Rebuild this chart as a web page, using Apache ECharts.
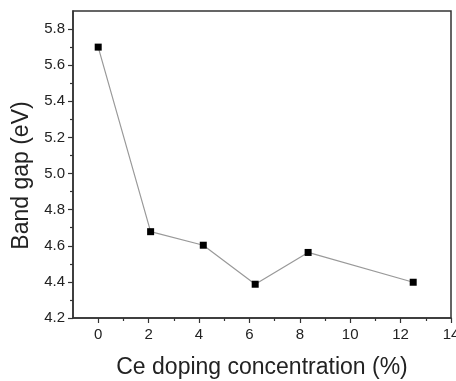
<!DOCTYPE html>
<html>
<head>
<meta charset="utf-8">
<script src="https://cdn.jsdelivr.net/npm/echarts@6/dist/echarts.min.js"></script>
<style>
  html, body { margin: 0; padding: 0; background: #fff; }
  #chart { width: 456px; height: 381px; }
</style>
</head>
<body>
<div id="chart"></div>
<script>
var concentration = [0, 2.08, 4.17, 6.23, 8.33, 12.5];
var bandGap = [5.70, 4.678, 4.603, 4.387, 4.563, 4.398];

var xTicks = [0, 2, 4, 6, 8, 10, 12, 14];
var xMinorTicks = [1, 3, 5, 7, 9, 11, 13];
var yTicks = [4.2, 4.4, 4.6, 4.8, 5.0, 5.2, 5.4, 5.6, 5.8];
var yMinorTicks = [4.3, 4.5, 4.7, 4.9, 5.1, 5.3, 5.5, 5.7];

var axisColor = '#333';
var textColor = '#222';
var font = 'Liberation Sans';

var chart = echarts.init(document.getElementById('chart'));

var option = {
    backgroundColor: '#fff',
    animation: false,
    grid: {
        left: 73,
        right: 5,
        top: 11,
        bottom: 63,
        containLabel: false,
        outerBoundsMode: 'none',
        show: true,
        borderColor: axisColor,
        borderWidth: 1.5
    },
    xAxis: [
        {
            type: 'value',
            min: -1,
            max: 14,
            position: 'bottom',
            name: 'Ce doping concentration (%)',
            nameLocation: 'middle',
            nameGap: 38,
            nameTextStyle: { color: textColor, fontSize: 23, fontFamily: font },
            axisLine: { onZero: false, lineStyle: { color: axisColor, width: 1.5 } },
            axisTick: { customValues: xTicks, length: 5, inside: false, lineStyle: { color: axisColor, width: 1.2 } },
            axisLabel: {
                customValues: xTicks, margin: 9,
                color: textColor, fontSize: 15, fontFamily: font
            },
            splitLine: { show: false }
        },
        {
            type: 'value',
            min: -1,
            max: 14,
            position: 'bottom',
            axisLine: { show: false, onZero: false },
            axisTick: { customValues: xMinorTicks, length: 3, inside: false, lineStyle: { color: axisColor, width: 1.2 } },
            axisLabel: { show: false },
            splitLine: { show: false }
        }
    ],
    yAxis: [
        {
            type: 'value',
            min: 4.2,
            max: 5.9,
            position: 'left',
            name: 'Band gap (eV)',
            nameLocation: 'middle',
            nameGap: 38,
            nameTextStyle: { color: textColor, fontSize: 23, fontFamily: font, padding: [0, 22, 0, 0] },
            axisLine: { show: true, onZero: false, lineStyle: { color: axisColor, width: 1.5 } },
            axisTick: { show: true, customValues: yTicks, length: 5, inside: false, lineStyle: { color: axisColor, width: 1.2 } },
            axisLabel: {
                customValues: yTicks, margin: 8,
                color: textColor, fontSize: 15, fontFamily: font,
                formatter: function (v) { return v.toFixed(1); }
            },
            splitLine: { show: false }
        },
        {
            type: 'value',
            min: 4.2,
            max: 5.9,
            position: 'left',
            axisLine: { show: false, onZero: false },
            axisTick: { show: true, customValues: yMinorTicks, length: 3, inside: false, lineStyle: { color: axisColor, width: 1.2 } },
            axisLabel: { show: false },
            splitLine: { show: false }
        }
    ],
    series: [
        {
            name: 'Band gap',
            type: 'line',
            xAxisIndex: 0,
            yAxisIndex: 0,
            data: concentration.map(function (x, i) { return [x, bandGap[i]]; }),
            symbol: 'rect',
            symbolSize: 7,
            itemStyle: { color: '#000' },
            lineStyle: { color: '#999', width: 1.2 }
        }
    ]
};

chart.setOption(option);
</script>
</body>
</html>
